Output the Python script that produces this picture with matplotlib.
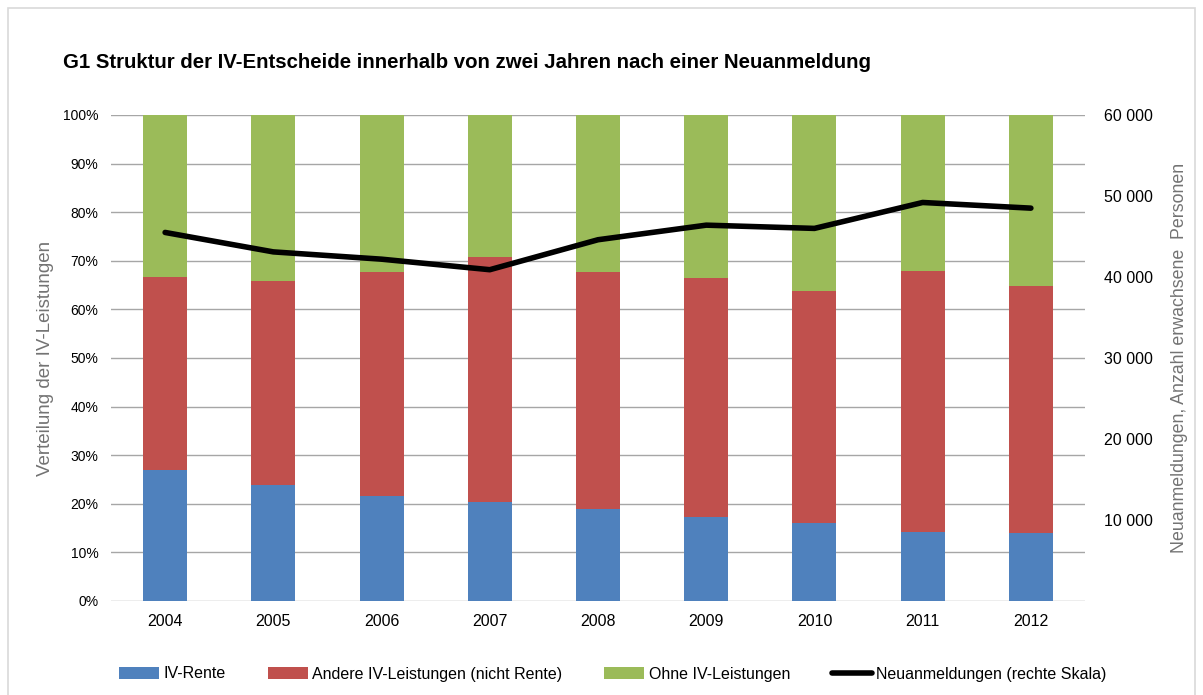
import matplotlib.pyplot as plt
import numpy as np
from matplotlib.patches import Rectangle
from matplotlib.ticker import FuncFormatter

plt.rcParams['font.family'] = ['Liberation Sans', 'DejaVu Sans']

years = ['2004', '2005', '2006', '2007', '2008', '2009', '2010', '2011', '2012']
iv_rente = [27.0, 23.9, 21.7, 20.3, 18.9, 17.2, 16.0, 14.1, 13.9]
andere = [39.7, 42.0, 45.9, 50.5, 48.7, 49.2, 47.8, 53.7, 51.0]
ohne = [33.3, 34.1, 32.4, 29.2, 32.4, 33.6, 36.2, 32.2, 35.1]
neuanmeldungen = [45500, 43100, 42200, 40900, 44600, 46400, 46000, 49200, 48500]

c_blue = '#4F81BD'
c_red = '#C0504D'
c_green = '#9BBB59'
grid_c = '#A6A6A6'
text_c = '#737373'

fig = plt.figure(figsize=(12.03, 6.95), dpi=100)
fig.patches.append(Rectangle((8 / 1203, -0.01), 1187 / 1203, 1 - 8 / 695 + 0.01,
                             transform=fig.transFigure, fill=False,
                             edgecolor='#D9D9D9', linewidth=1.2))

ax = fig.add_axes([111 / 1203, 1 - 601 / 695, 974 / 1203, 486 / 695])
x = np.arange(len(years))
w = 0.406
b1 = ax.bar(x, iv_rente, w, color=c_blue, label='IV-Rente', zorder=2)
b2 = ax.bar(x, andere, w, bottom=iv_rente, color=c_red,
            label='Andere IV-Leistungen (nicht Rente)', zorder=2)
bottom2 = np.array(iv_rente) + np.array(andere)
b3 = ax.bar(x, ohne, w, bottom=bottom2, color=c_green,
            label='Ohne IV-Leistungen', zorder=2)

ax.set_ylim(0, 100)
ax.set_xlim(-0.5, 8.5)
ax.set_yticks(np.arange(0, 101, 10))
ax.yaxis.set_major_formatter(FuncFormatter(lambda v, p: f'{int(v)}%'))
ax.set_xticks(x)
ax.set_xticklabels(years)
ax.grid(axis='y', color=grid_c, linewidth=1, zorder=0)
ax.set_axisbelow(True)
for s in ax.spines.values():
    s.set_visible(False)
ax.tick_params(axis='both', length=0, colors='black')
ax.tick_params(axis='x', pad=9, labelsize=11.5)
ax.tick_params(axis='y', pad=9, labelsize=10)
ax.set_ylabel('Verteilung der IV-Leistungen', fontsize=13.5, color=text_c)
ax.yaxis.set_label_coords((54 - 111) / 974, 0.5)

ax2 = ax.twinx()
ln, = ax2.plot(x, neuanmeldungen, color='black', linewidth=4,
               solid_capstyle='round', label='Neuanmeldungen (rechte Skala)', zorder=3)
ax2.set_ylim(0, 60000)
ax2.set_yticks(np.arange(10000, 60001, 10000))
ax2.yaxis.set_major_formatter(FuncFormatter(lambda v, p: f'{int(v):,}'.replace(',', ' ')))
for s in ax2.spines.values():
    s.set_visible(False)
ax2.tick_params(axis='y', length=0, labelsize=11.5, pad=14)
ax2.set_ylabel('Neuanmeldungen, Anzahl erwachsene  Personen', fontsize=12.8,
               color=text_c)
ax2.yaxis.set_label_coords((1171 - 111) / 974, 0.5)

fig.text(63 / 1203, 1 - 62 / 695, 'G1 Struktur der IV-Entscheide innerhalb von zwei Jahren nach einer Neuanmeldung',
         fontsize=14.7, fontweight='bold', va='center', ha='left')

fig.legend(handles=[b1, b2, b3, ln], loc='center', bbox_to_anchor=(613 / 1203, 1 - 674 / 695),
           ncol=4, frameon=False, fontsize=11.5, handlelength=2.5, handletextpad=0.3,
           columnspacing=2.6)

fig.savefig('out.png', dpi=100)
